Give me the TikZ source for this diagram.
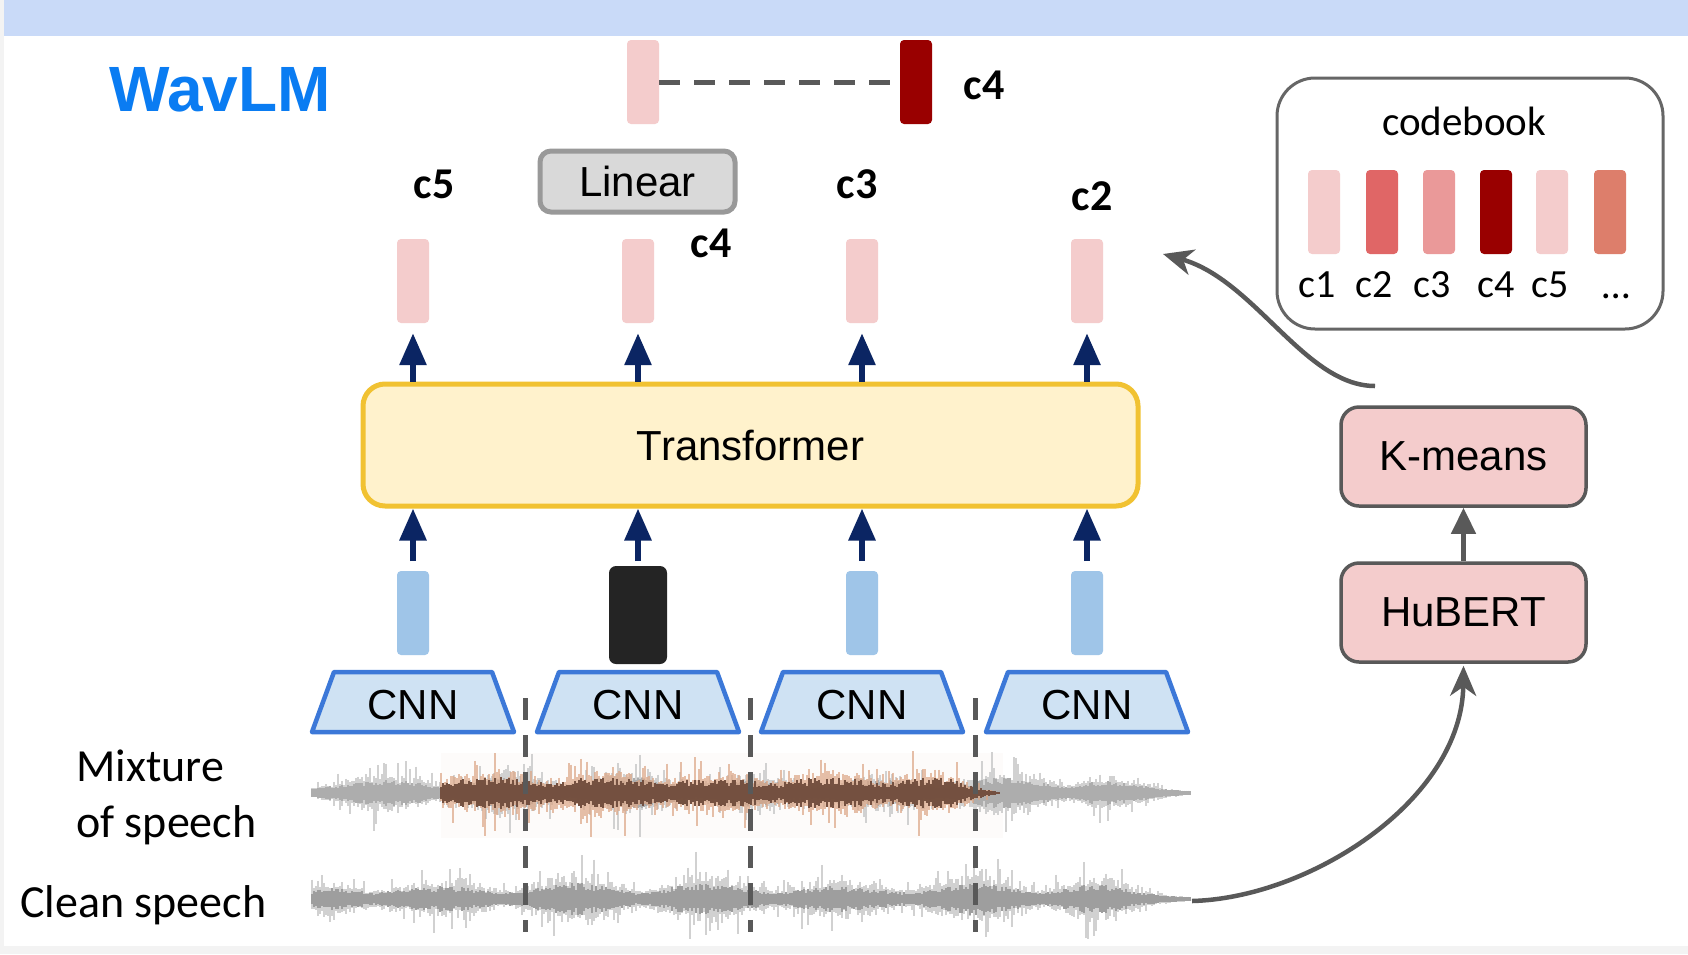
\documentclass[tikz,border=0pt]{standalone}
\usepackage{fontspec}
\setmainfont{Liberation Sans}
\newfontfamily\calfont{Carlito}
\usetikzlibrary{arrows.meta}
\definecolor{bandblue}{HTML}{C9DAF8}
\definecolor{edgegray}{HTML}{F3F3F3}
\definecolor{wavblue}{HTML}{0A7CF2}
\definecolor{pinkc}{HTML}{F4CCCC}
\definecolor{redc}{HTML}{E06666}
\definecolor{midred}{HTML}{EA9999}
\definecolor{darkred}{HTML}{990000}
\definecolor{salmon}{HTML}{DD7E6B}
\definecolor{barblue}{HTML}{9FC5E8}
\definecolor{cnnfill}{HTML}{CFE2F3}
\definecolor{cnnedge}{HTML}{3C78D8}
\definecolor{trfill}{HTML}{FFF2CC}
\definecolor{tredge}{HTML}{F1C232}
\definecolor{navy}{HTML}{0B2563}
\definecolor{dgray}{HTML}{595959}
\definecolor{boxgray}{HTML}{666666}
\definecolor{linfill}{HTML}{D9D9D9}
\definecolor{linedge}{HTML}{999999}
\definecolor{wlight}{HTML}{CDCDCD}
\definecolor{wcore}{HTML}{9E9E9E}
\definecolor{wcorem}{HTML}{ADADAD}
\definecolor{blight}{HTML}{DCA585}
\definecolor{bcore}{HTML}{704C3C}
\definecolor{faint}{HTML}{FDFBFA}
\tikzset{
  bar/.style={rectangle, rounded corners=4pt, inner sep=0pt, minimum width=32pt, minimum height=84pt},
  pinkbar/.style={bar, fill=pinkc},
  bluebar/.style={bar, fill=barblue},
  arialtxt/.style={font=\fontsize{42}{50}\selectfont},
  boldlab/.style={font=\calfont\bfseries\fontsize{44}{52}\selectfont, inner sep=0pt},
  cblab/.style={font=\calfont\fontsize{40}{48}\selectfont, inner sep=0pt},
  upnavy/.style={draw=navy, line width=6pt, -{Triangle[length=32pt,width=26pt]}},
  pinkbox/.style={rectangle, rounded corners=18pt, fill=pinkc, draw=dgray, line width=3.5pt, minimum width=245pt, minimum height=99pt, arialtxt},
  grayarrow/.style={draw=dgray, line width=4.5pt},
  wavelight/.style={draw=wlight, line width=1.5pt, opacity=0.9},
  wavecore/.style={draw=wcore, line width=1.6pt},
  vdash/.style={draw=dgray, line width=5pt, dash pattern=on 22pt off 15pt}
}
\begin{document}
\begin{tikzpicture}[x=1pt,y=-1pt]
\useasboundingbox (0,0) rectangle (1688,954);
% background
\fill[edgegray] (0,0) rectangle (1688,954);
\fill[white] (4,36) rectangle (1688,946);
\fill[bandblue] (4,0) rectangle (1688,36);

% title
\node[anchor=base west, inner sep=0pt, text=wavblue, font=\bfseries\fontsize{64}{70}\selectfont] (title) at (109,111) {WavLM};

% faint waveform background
\fill[faint] (441,753) rectangle (1003,838);

% waveforms
\pgfmathsetseed{11}
% clean speech
\foreach \x in {312,314,...,1190}{
  \pgfmathsetmacro\t{min(1,(1190-\x)/100)*min(1,0.5+(\x-312)/30)}
  \pgfmathsetmacro\e{(0.3+0.7*abs(sin(\x*1.35+35))^1.5*(0.55+0.45*abs(sin(\x*0.41+10))))*\t}
  \pgfmathsetmacro\au{\e*(11+13*rnd+30*rnd^8)+2}
  \pgfmathsetmacro\ad{\e*(11+13*rnd+30*rnd^8)+2}
  \draw[wavelight] (\x,899-\au) -- (\x,899+\ad);
  \pgfmathsetmacro\c{\e*(7+8*rnd)+2}
  \draw[wavecore] (\x,899-\c) -- (\x,899+\c);
}
% mixture (gray)
\foreach \x in {312,314,...,1190}{
  \pgfmathsetmacro\t{min(1,(1190-\x)/100)*min(1,0.5+(\x-312)/30)}
  \pgfmathsetmacro\e{(0.3+0.7*abs(sin(\x*1.45+75))^1.5*(0.55+0.45*abs(sin(\x*0.37+60))))*\t}
  \pgfmathsetmacro\au{\e*(10+12*rnd+28*rnd^8)+2}
  \pgfmathsetmacro\ad{\e*(10+12*rnd+28*rnd^8)+2}
  \draw[wavelight] (\x,793-\au) -- (\x,793+\ad);
  \pgfmathsetmacro\c{\e*(7+7*rnd)+2}
  \draw[wavecore, draw=wcorem] (\x,793-\c) -- (\x,793+\c);
}
% mixture (interfering speech, brown)
\foreach \x in {441,443,...,999}{
  \pgfmathsetmacro\t{min(1,(1000-\x)/60)}
  \pgfmathsetmacro\e{(0.55+0.45*abs(sin(\x*1.6+20))*(0.6+0.4*abs(sin(\x*0.5))))*\t}
  \pgfmathsetmacro\au{\e*(12+12*rnd+32*rnd^8)}
  \pgfmathsetmacro\ad{\e*(12+12*rnd+32*rnd^8)}
  \draw[draw=blight, line width=1.5pt, opacity=0.7] (\x,793-\au) -- (\x,793+\ad);
  \pgfmathsetmacro\c{\e*(7+9*rnd)+1}
  \draw[draw=bcore, line width=1.7pt, opacity=0.95] (\x,793-\c) -- (\x,793+\c);
}

% waveform labels
\node[anchor=west, inner sep=0pt, align=left, font=\calfont\fontsize{46}{56}\selectfont] (mixlab) at (76,797) {Mixture\\of speech};
\node[anchor=west, inner sep=0pt, font=\calfont\fontsize{46}{56}\selectfont] (cleanlab) at (20,905) {Clean speech};

% vertical dashed separators
\foreach \xx in {525,750,975}{
  \draw[vdash] (\xx,698) -- (\xx,932);
}

% CNNs
\foreach \X/\n in {413/1,638/2,862/3,1087/4}{
  \draw[fill=cnnfill, draw=cnnedge, line width=4.5pt, line join=round] (\X-101,732) -- (\X-79,672) -- (\X+79,672) -- (\X+101,732) -- cycle;
  \node[arialtxt, inner sep=0pt] (cnn\n) at (\X,705) {CNN};
}

% CNN feature bars
\node[bluebar] (f1) at (413,613) {};
\node[bar, fill={black!86}, minimum width=58pt, minimum height=98pt, rounded corners=7pt] (f2) at (638,615) {};
\node[bluebar] (f3) at (862,613) {};
\node[bluebar] (f4) at (1087,613) {};

% transformer
\node[rectangle, rounded corners=22pt, fill=trfill, draw=tredge, line width=5pt, minimum width=775pt, minimum height=122pt, arialtxt] (trans) at (750.5,445) {Transformer};

% arrows into transformer
\foreach \X/\n in {413/1,638/2,862/3,1087/4}{
  \coordinate (inb\n) at (\X,561);
  \draw[upnavy] (inb\n) -- (inb\n |- trans.south);
}
% output bars
\node[pinkbar] (o1) at (413,281) {};
\node[pinkbar] (o2) at (638,281) {};
\node[pinkbar] (o3) at (862,281) {};
\node[pinkbar] (o4) at (1087,281) {};
\foreach \n in {1,2,3,4}{
  \draw[upnavy] (o\n |- trans.north) -- ([yshift=-10pt]o\n.south);
}

% labels
\node[boldlab] (l5) at (434,184) {c5};
\node[boldlab] (l3) at (857,184) {c3};
\node[boldlab] (l2) at (1092,196) {c2};
\node[boldlab] (l4) at (711,243) {c4};

% linear and top bars
\node[rectangle, rounded corners=11pt, fill=linfill, draw=linedge, line width=5pt, minimum width=195pt, minimum height=61pt, arialtxt] (linear) at (637.5,181.5) {Linear};
\node[pinkbar] (ptop) at (643,82) {};
\node[bar, fill=darkred] (rtop) at (916,82) {};
\draw[draw=dgray, line width=5pt, dash pattern=on 21pt off 14pt] (ptop.east) -- (rtop.west);
\node[boldlab] (l4top) at (984,85) {c4};

% codebook
\node[rectangle, rounded corners=38pt, draw=boxgray, line width=3pt, fill=white, minimum width=386pt, minimum height=251pt] (cb) at (1470,203.5) {};
\node[font=\calfont\fontsize{41}{48}\selectfont, inner sep=0pt] (cbt) at (1464,121) {codebook};
\foreach \X/\col/\n in {1324/pinkc/1,1382/redc/2,1439/midred/3,1496/darkred/4,1552/pinkc/5,1610/salmon/6}{
  \node[bar, fill=\col] (cb\n) at (\X,212) {};
}
\node[cblab] (cl1) at (1317,285) {c1};
\node[cblab] (cl2) at (1374,285) {c2};
\node[cblab] (cl3) at (1432,285) {c3};
\node[cblab] (cl4) at (1496,285) {c4};
\node[cblab] (cl5) at (1550,285) {c5};
\node[cblab, anchor=base] (cl6) at (1616,298) {…};

% HuBERT / K-means
\node[pinkbox] (km) at (1463.5,456.5) {K-means};
\node[pinkbox] (hb) at (1463.5,612.5) {HuBERT};
\draw[grayarrow, -{Triangle[length=26pt,width=24pt]}] (hb.north) -- (km.south);

% curved arrows
\coordinate (wend) at (1192,901);
\draw[grayarrow, -{Stealth[length=30pt,width=26pt,inset=9pt]}] (wend) .. controls (1310,898) and (1462,800) .. ([yshift=-2pt]hb.south);
\coordinate (kmtop) at (1375,386);
\coordinate (tgt) at (1163,254);
\draw[grayarrow, -{Stealth[length=30pt,width=26pt,inset=9pt]}] (kmtop) .. controls (1305,386) and (1255,280) .. (tgt);
\end{tikzpicture}
\end{document}
